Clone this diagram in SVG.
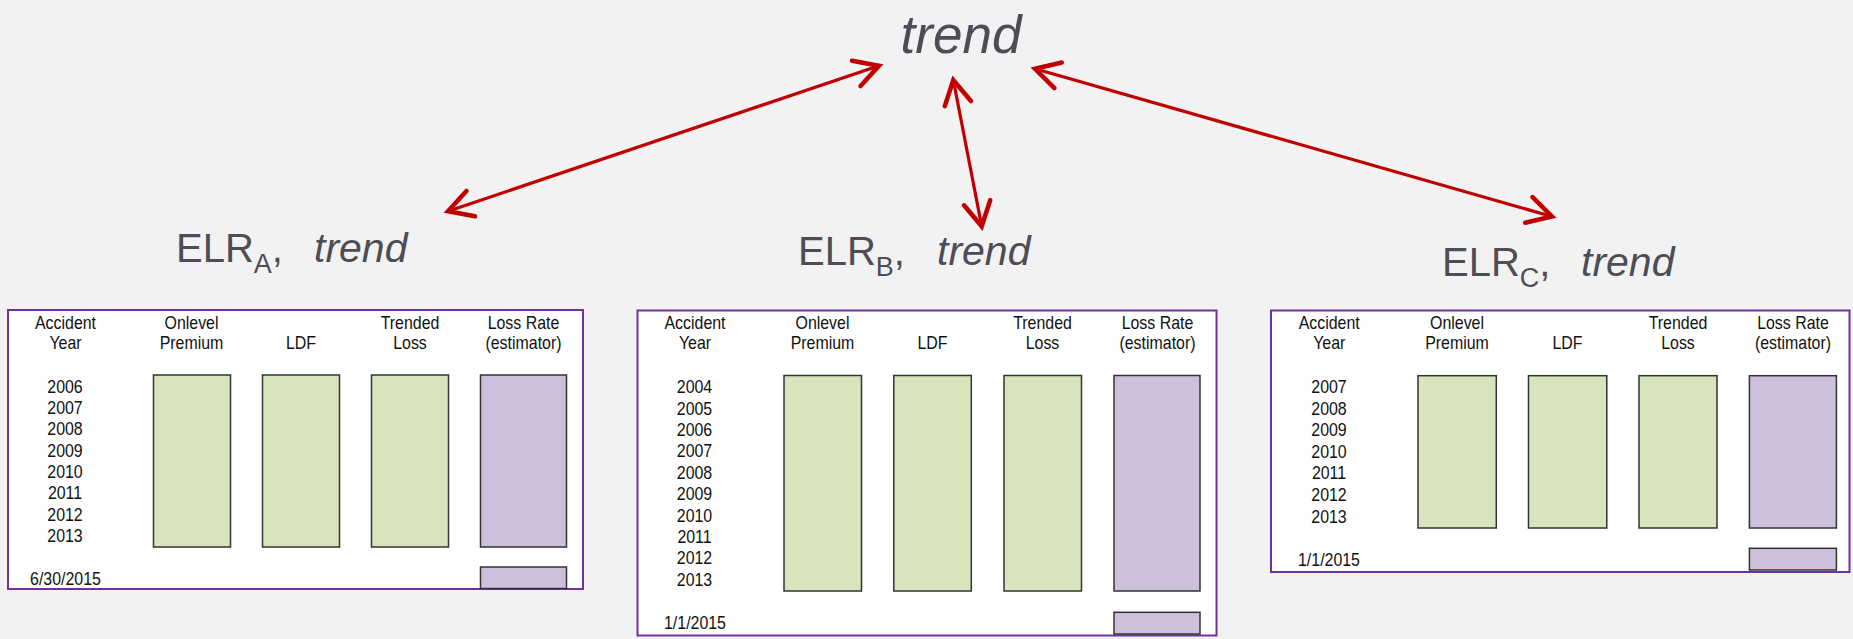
<svg xmlns="http://www.w3.org/2000/svg" width="1853" height="639" viewBox="0 0 1853 639">
<style>
.bg{fill:#f2f2f2}
.lbl{font-family:"Liberation Sans",Arial,sans-serif;fill:#4d4d55}
.it{font-style:italic}
.conn{stroke:#c00000;stroke-width:3.2;fill:none;marker-start:url(#ah);marker-end:url(#ah)}
.box{fill:#ffffff;stroke:#7030a0;stroke-width:2}
.g{fill:#d8e4bc;stroke:#333333;stroke-width:1.5}
.p{fill:#ccc0da;stroke:#333333;stroke-width:1.5}
.t{font-family:"Liberation Sans",Arial,sans-serif;font-size:17.5px;fill:#111111;text-anchor:middle;transform-box:fill-box;transform-origin:center;transform:scaleX(0.91)}
</style>
<defs>
<marker id="ah" markerUnits="userSpaceOnUse" orient="auto-start-reverse" refX="0" refY="0" markerWidth="40" markerHeight="40" viewBox="-25 -15 30 30" overflow="visible">
<path d="M-18,-10 L0,0 L-18,10" fill="none" stroke="#c00000" stroke-width="3.4" stroke-linecap="round" stroke-linejoin="miter"/>
</marker>
</defs>
<rect class="bg" x="0" y="0" width="1853" height="639"/>

<g id="trend">
<text class="lbl it" x="961" y="53" font-size="53" text-anchor="middle">trend</text>
</g>

<g id="connectors">
<line class="conn" x1="879" y1="65.7" x2="448" y2="211.3"/>
<line class="conn" x1="953.3" y1="80" x2="981.7" y2="226.3"/>
<line class="conn" x1="1035" y1="68.8" x2="1552" y2="216.5"/>
</g>

<g id="elr-a">
<text class="lbl" x="176" y="262" font-size="40">ELR<tspan font-size="27" dy="11">A</tspan><tspan dy="-11">,</tspan><tspan class="it" x="314" font-size="41">trend</tspan></text>
</g>
<g id="elr-b">
<text class="lbl" x="798" y="265" font-size="40">ELR<tspan font-size="27" dy="11">B</tspan><tspan dy="-11">,</tspan><tspan class="it" x="937" font-size="41">trend</tspan></text>
</g>
<g id="elr-c">
<text class="lbl" x="1442" y="276" font-size="40">ELR<tspan font-size="27" dy="11">C</tspan><tspan dy="-11">,</tspan><tspan class="it" x="1581" font-size="41">trend</tspan></text>
</g>

<g id="table-a">
<rect class="box" x="8" y="310" width="575" height="279"/>
<text class="t" x="65.5" y="329.5">Accident</text>
<text class="t" x="65.5" y="349.5">Year</text>
<text class="t" x="191.5" y="329.5">Onlevel</text>
<text class="t" x="191.5" y="349.5">Premium</text>
<text class="t" x="301" y="349.5">LDF</text>
<text class="t" x="410" y="329.5">Trended</text>
<text class="t" x="410" y="349.5">Loss</text>
<text class="t" x="523.5" y="329.5">Loss Rate</text>
<text class="t" x="523.5" y="349.5">(estimator)</text>
<text class="t" x="65" y="392.7">2006</text>
<text class="t" x="65" y="414">2007</text>
<text class="t" x="65" y="435.4">2008</text>
<text class="t" x="65" y="456.8">2009</text>
<text class="t" x="65" y="478.1">2010</text>
<text class="t" x="65" y="499.5">2011</text>
<text class="t" x="65" y="520.8">2012</text>
<text class="t" x="65" y="542.2">2013</text>
<rect class="g" x="153.5" y="375" width="77" height="172"/>
<rect class="g" x="262.5" y="375" width="77" height="172"/>
<rect class="g" x="371.5" y="375" width="77" height="172"/>
<rect class="p" x="480.5" y="375" width="86" height="172"/>
<rect class="p" x="480.5" y="567" width="86" height="21.5"/>
<text class="t" x="65.5" y="585">6/30/2015</text>
</g>

<g id="table-b">
<rect class="box" x="637.5" y="310.5" width="579" height="325"/>
<text class="t" x="695" y="329.5">Accident</text>
<text class="t" x="695" y="349.5">Year</text>
<text class="t" x="822.5" y="329.5">Onlevel</text>
<text class="t" x="822.5" y="349.5">Premium</text>
<text class="t" x="932.5" y="349.5">LDF</text>
<text class="t" x="1042.5" y="329.5">Trended</text>
<text class="t" x="1042.5" y="349.5">Loss</text>
<text class="t" x="1157.5" y="329.5">Loss Rate</text>
<text class="t" x="1157.5" y="349.5">(estimator)</text>
<text class="t" x="694.5" y="393.3">2004</text>
<text class="t" x="694.5" y="414.7">2005</text>
<text class="t" x="694.5" y="436.1">2006</text>
<text class="t" x="694.5" y="457.5">2007</text>
<text class="t" x="694.5" y="478.9">2008</text>
<text class="t" x="694.5" y="500.3">2009</text>
<text class="t" x="694.5" y="521.7">2010</text>
<text class="t" x="694.5" y="543.1">2011</text>
<text class="t" x="694.5" y="564.5">2012</text>
<text class="t" x="694.5" y="585.9">2013</text>
<rect class="g" x="784" y="375.5" width="77.5" height="215.5"/>
<rect class="g" x="893.8" y="375.5" width="77.5" height="215.5"/>
<rect class="g" x="1004" y="375.5" width="77.5" height="215.5"/>
<rect class="p" x="1114" y="375.5" width="86" height="215.5"/>
<rect class="p" x="1114" y="612.3" width="86" height="21.7"/>
<text class="t" x="695" y="629">1/1/2015</text>
</g>

<g id="table-c">
<rect class="box" x="1271" y="310.5" width="578.5" height="261.5"/>
<text class="t" x="1329.2" y="329.5">Accident</text>
<text class="t" x="1329.2" y="349.5">Year</text>
<text class="t" x="1457" y="329.5">Onlevel</text>
<text class="t" x="1457" y="349.5">Premium</text>
<text class="t" x="1567.5" y="349.5">LDF</text>
<text class="t" x="1678" y="329.5">Trended</text>
<text class="t" x="1678" y="349.5">Loss</text>
<text class="t" x="1793" y="329.5">Loss Rate</text>
<text class="t" x="1793" y="349.5">(estimator)</text>
<text class="t" x="1329" y="393.3">2007</text>
<text class="t" x="1329" y="414.9">2008</text>
<text class="t" x="1329" y="436.4">2009</text>
<text class="t" x="1329" y="458">2010</text>
<text class="t" x="1329" y="479.5">2011</text>
<text class="t" x="1329" y="501.1">2012</text>
<text class="t" x="1329" y="522.7">2013</text>
<rect class="g" x="1418" y="375.7" width="78.3" height="152.3"/>
<rect class="g" x="1528.5" y="375.7" width="78.3" height="152.3"/>
<rect class="g" x="1639" y="375.7" width="78" height="152.3"/>
<rect class="p" x="1749.4" y="375.7" width="87" height="152.3"/>
<rect class="p" x="1749.4" y="548.3" width="87" height="21.7"/>
<text class="t" x="1329" y="565.7">1/1/2015</text>
</g>
</svg>
